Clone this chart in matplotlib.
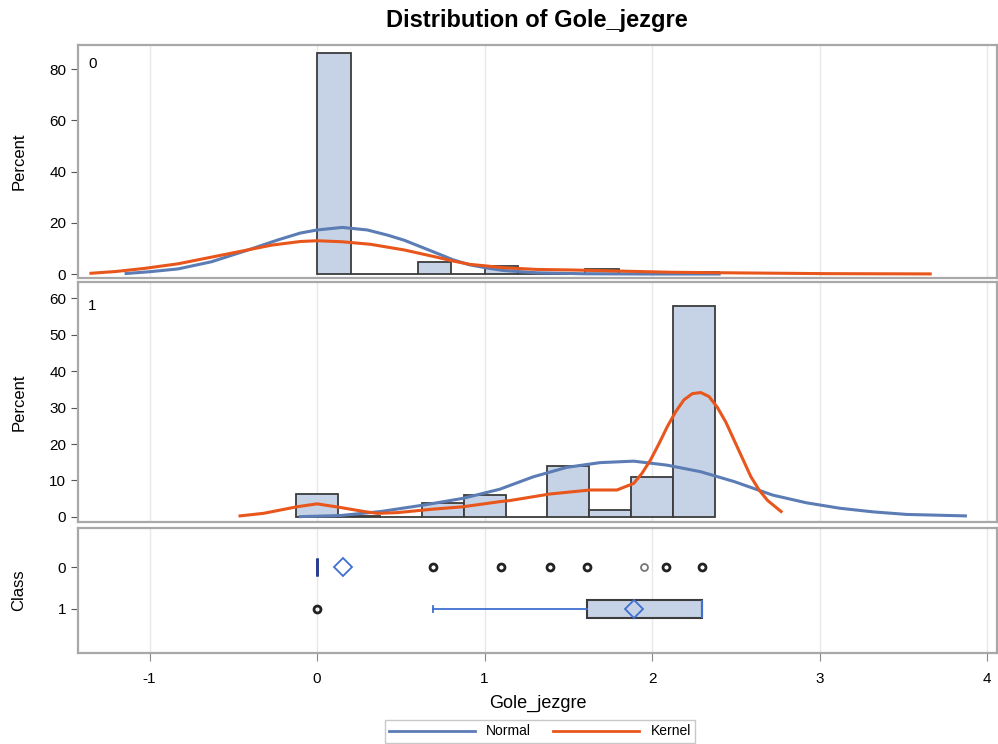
import matplotlib
matplotlib.use("Agg")
import matplotlib.pyplot as plt

plt.rcParams['font.family'] = ['Liberation Sans', 'DejaVu Sans']

# histogram, class 0 (bin left edges, percent)
top_bin_left = [0.0, 0.2, 0.4, 0.6, 0.8, 1.0, 1.2, 1.4, 1.6, 1.8, 2.0, 2.2]
top_pct = [86.2, 0, 0, 4.7, 0, 3.0, 0, 0, 1.9, 0, 0, 0.6]
top_bin_w = 0.2

# histogram, class 1
mid_bin_left = [-0.125, 0.125, 0.375, 0.625, 0.875, 1.125, 1.375, 1.625, 1.875, 2.125]
mid_pct = [6.3, 0.3, 0, 3.7, 6.0, 0, 14.0, 1.9, 11.0, 57.8]
mid_bin_w = 0.25

# fitted curves
top_norm_x = [-1.14, -1.0, -0.83, -0.63, -0.43, -0.23, -0.1, 0.0, 0.15, 0.3, 0.42, 0.52,
              0.62, 0.72, 0.81, 0.91, 1.01, 1.11, 1.31, 1.6, 2.0, 2.4]
top_norm_y = [0.2, 0.9, 2.0, 4.8, 9.0, 13.4, 16.0, 17.2, 18.2, 17.2, 15.2, 13.2,
              10.6, 8.0, 5.6, 3.6, 2.4, 1.4, 0.5, 0.1, 0.0, 0.0]
top_kern_x = [-1.35, -1.2, -1.03, -0.83, -0.63, -0.43, -0.27, -0.1, 0.0, 0.15, 0.32, 0.52,
              0.72, 0.81, 0.91, 1.11, 1.31, 1.51, 1.71, 2.11, 2.41, 3.04, 3.66]
top_kern_y = [0.3, 1.0, 2.2, 4.0, 6.6, 9.2, 11.3, 12.7, 13.0, 12.6, 11.6, 9.4,
              6.5, 5.1, 3.8, 2.5, 1.8, 1.6, 1.3, 0.7, 0.5, 0.15, 0.05]

mid_norm_x = [-0.1, 0.14, 0.38, 0.64, 0.87, 1.09, 1.29, 1.49, 1.69, 1.89, 2.09, 2.29,
              2.49, 2.72, 2.92, 3.12, 3.32, 3.52, 3.87]
mid_norm_y = [0.1, 0.4, 1.5, 3.3, 5.1, 7.6, 11.0, 13.6, 14.9, 15.3, 14.2, 12.4,
              9.7, 6.0, 3.9, 2.4, 1.4, 0.7, 0.3]
mid_kern_x = [-0.46, -0.32, -0.12, 0.0, 0.14, 0.28, 0.36, 0.48, 0.68, 0.87, 1.09, 1.15,
              1.39, 1.63, 1.79, 1.89, 1.94, 1.99, 2.04, 2.09, 2.14, 2.19, 2.24, 2.29,
              2.34, 2.39, 2.44, 2.49, 2.54, 2.59, 2.64, 2.69, 2.77]
mid_kern_y = [0.3, 1.0, 2.8, 3.6, 2.6, 1.5, 1.0, 1.2, 2.1, 2.8, 4.2, 4.5,
              6.3, 7.4, 7.4, 9.2, 12.0, 15.6, 20.0, 24.7, 28.8, 32.1, 33.8, 34.1,
              33.0, 30.0, 26.0, 21.0, 16.0, 11.0, 7.3, 4.5, 1.5]

# box plot values
class0_mean = 0.157
class0_out = [0.69, 1.10, 1.39, 1.61, 2.08, 2.30]
class0_far = [1.95]
class1 = dict(whislo=0.69, q1=1.61, med=2.30, q3=2.30, whishi=2.30, mean=1.89)
class1_out = [0.0]

bar_fc = '#c6d3e6'
bar_ec = '#3c3c3c'
c_norm = '#5b7cb4'
c_kern = '#e8561c'
frame_c = '#a8a8a8'

fig = plt.figure(figsize=(9.98, 7.44), dpi=100)
ax1 = fig.add_axes([0.0782, 0.6263, 0.921, 0.3132])
ax2 = fig.add_axes([0.0782, 0.2984, 0.921, 0.3226])
ax3 = fig.add_axes([0.0782, 0.1223, 0.921, 0.168])

for ax in (ax1, ax2, ax3):
    ax.set_xlim(-1.427, 4.06)
    ax.set_xticks([-1, 0, 1, 2, 3, 4])
    ax.grid(axis='x', color='#e8e8e8', lw=1)
    ax.set_axisbelow(True)
    for s in ax.spines.values():
        s.set_color(frame_c)
        s.set_linewidth(1.6)
    ax.tick_params(axis='y', colors='#555555', labelcolor='black', labelsize=11, length=5)
    ax.tick_params(axis='x', colors='#888888', labelcolor='black', labelsize=11,
                   length=6, pad=8)

# class 0 histogram
ax1.bar(top_bin_left, top_pct, width=top_bin_w, align='edge', color=bar_fc,
        edgecolor=bar_ec, lw=1.3, zorder=2)
ax1.plot(top_norm_x, top_norm_y, color=c_norm, lw=2.2, zorder=3)
ax1.plot(top_kern_x, top_kern_y, color=c_kern, lw=2.2, zorder=3)
ax1.set_ylim(-1.56, 89.4)
ax1.set_yticks([0, 20, 40, 60, 80])
ax1.set_ylabel('Percent', fontsize=12)
ax1.tick_params(axis='x', bottom=False, labelbottom=False)
ax1.text(0.011, 0.95, '0', transform=ax1.transAxes, fontsize=11, va='top')

# class 1 histogram
ax2.bar(mid_bin_left, mid_pct, width=mid_bin_w, align='edge', color=bar_fc,
        edgecolor=bar_ec, lw=1.3, zorder=2)
ax2.plot(mid_norm_x, mid_norm_y, color=c_norm, lw=2.2, zorder=3)
ax2.plot(mid_kern_x, mid_kern_y, color=c_kern, lw=2.2, zorder=3)
ax2.set_ylim(-1.37, 64.4)
ax2.set_yticks([0, 10, 20, 30, 40, 50, 60])
ax2.set_ylabel('Percent', fontsize=12)
ax2.tick_params(axis='x', bottom=False, labelbottom=False)
ax2.text(0.011, 0.93, '1', transform=ax2.transAxes, fontsize=11, va='top')

# box plots
stats0 = dict(whislo=0, q1=0, med=0, q3=0, whishi=0, mean=class0_mean, fliers=[])
stats1 = dict(class1, fliers=[])
ax3.bxp([stats0], positions=[0], widths=0.42, orientation='horizontal', showmeans=True,
        showcaps=False, patch_artist=True,
        boxprops=dict(facecolor=bar_fc, edgecolor='#2a3f8f', lw=2),
        medianprops=dict(color='#2a3f8f', lw=2),
        meanprops=dict(marker='D', markerfacecolor='none', markeredgecolor='#3f6fd0',
                       markersize=9, markeredgewidth=1.3),
        whiskerprops=dict(color='#3f6fd0'))
ax3.bxp([stats1], positions=[1], widths=0.42, orientation='horizontal', showmeans=True,
        patch_artist=True, capwidths=0.16,
        boxprops=dict(facecolor=bar_fc, edgecolor='#3c3c3c', lw=1.5),
        medianprops=dict(color='#3f6fd0', lw=1.5),
        meanprops=dict(marker='D', markerfacecolor='none', markeredgecolor='#3f6fd0',
                       markersize=9, markeredgewidth=1.3),
        whiskerprops=dict(color='#3f6fd0', lw=1.3),
        capprops=dict(color='#3f6fd0', lw=1.3))
ax3.plot(class0_out, [0] * len(class0_out), ls='none', marker='o', mfc='none',
         mec='#222222', ms=5, mew=2, zorder=4)
ax3.plot(class0_far, [0] * len(class0_far), ls='none', marker='o', mfc='none',
         mec='#777777', ms=5, mew=1.3, zorder=4)
ax3.plot(class1_out, [1] * len(class1_out), ls='none', marker='o', mfc='none',
         mec='#222222', ms=5, mew=2, zorder=4)
ax3.set_ylim(2.05, -0.93)
ax3.set_yticks([0, 1])
ax3.set_yticklabels(['0', '1'])
ax3.set_ylabel('Class', fontsize=12)
ax3.set_xticks([-1, 0, 1, 2, 3, 4])
ax3.set_xticklabels(['-1', '0', '1', '2', '3', '4'])
ax3.set_xlabel('Gole_jezgre', fontsize=13, labelpad=6)

for ax in (ax1, ax2, ax3):
    ax.yaxis.set_label_coords(-0.056, 0.5)

fig.text(0.538, 0.972, 'Distribution of Gole_jezgre', ha='center', va='center',
         fontsize=17, fontweight='bold')

h1, = ax1.plot([], [], color=c_norm, lw=2, label='Normal')
h2, = ax1.plot([], [], color=c_kern, lw=2, label='Kernel')
leg = fig.legend(handles=[h1, h2], loc='lower center', bbox_to_anchor=(0.541, 0.0),
                 ncol=2, fontsize=10, handlelength=6.2, frameon=True, fancybox=False,
                 borderpad=0.3, columnspacing=1.6, handletextpad=0.8, borderaxespad=0.1)
leg.get_frame().set_edgecolor('#bbbbbb')
leg.get_frame().set_linewidth(1)

fig.savefig('out.png', dpi=100)
